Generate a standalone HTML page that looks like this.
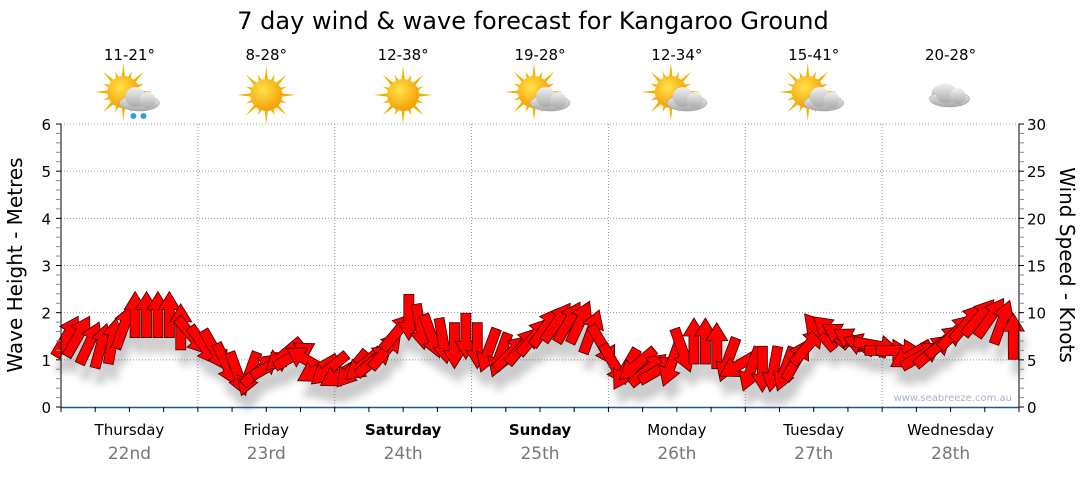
<!DOCTYPE html>
<html><head><meta charset="utf-8">
<style>
body{margin:0;background:#fff;width:1080px;height:475px;overflow:hidden;font-family:"DejaVu Sans","Liberation Sans",sans-serif}
svg text{font-family:"DejaVu Sans","Liberation Sans",sans-serif}
</style></head><body>
<svg id="c" width="1080" height="475" viewBox="0 0 1080 475">
<defs>
<radialGradient id="sun" cx="40%" cy="35%" r="70%"><stop offset="0" stop-color="#ffe34a"/><stop offset="1" stop-color="#f39a00"/></radialGradient>
<linearGradient id="cl" x1="0" y1="0" x2="0" y2="1"><stop offset="0" stop-color="#f2f2f2"/><stop offset="1" stop-color="#a9a9a9"/></linearGradient>
<filter id="sh" x="-20%" y="-20%" width="140%" height="160%"><feGaussianBlur stdDeviation="4"/></filter>
</defs>
<text x="533" y="29" font-size="24" text-anchor="middle" fill="#000">7 day wind &amp; wave forecast for Kangaroo Ground</text>
<g id="grid"></g>
<g id="icons"></g>
<g id="shadow" filter="url(#sh)" opacity="0.3"></g>
<g id="arrows"></g>
<g id="axes"></g>
<text x="1012" y="401" font-size="10" text-anchor="end" fill="#a8b4c8">www.seabreeze.com.au</text>
<text transform="translate(22,265) rotate(-90)" font-size="20" text-anchor="middle">Wave Height - Metres</text>
<text transform="translate(1060,265) rotate(90)" font-size="20" text-anchor="middle">Wind Speed - Knots</text>
</svg>
<script>
const days=["Thursday","Friday","Saturday","Sunday","Monday","Tuesday","Wednesday"];
const dates=["22nd","23rd","24th","25th","26th","27th","28th"];
const temps=["11-21°","8-28°","12-38°","19-28°","12-34°","15-41°","20-28°"];
const icons=["rain","sun","sun","cloudsun","cloudsun","cloudsun","cloud"];
const boldDays=[false,false,true,true,false,false,false];
const waveTicks=[0,1,2,3,4,5,6];
const windTicks=[0,5,10,15,20,25,30];
const windSpeed=[7.5,7.5,6.8,6.5,7,8.5,9.8,9.8,9.8,9.8,8.5,7.5,
6.5,6,4.5,3.5,3.5,4,4.5,5.5,5.5,5,4,4,
3.5,4,4.5,5,6,8,9.5,8.5,7.5,7,6.5,7.5,
6.5,6,5.5,5.8,6.5,7.5,8.5,9,9,9,8,6.5,
4.5,4,4.5,4,4,4.5,6,7,7,6.5,5,4.5,
4,4,4,4,5,6.5,8,8,7.5,7,6.5,6.5,
6,6,5.5,5.5,6,7,8,9,9.5,9.5,9,7.5];
const windDir=[30,30,25,15,10,20,0,0,0,0,0,140,
145,150,155,160,200,50,60,230,60,300,240,230,
240,220,230,50,40,40,180,170,160,170,180,180,
180,200,200,45,40,40,35,35,30,25,20,150,
150,210,230,50,60,200,160,0,0,0,200,240,
200,180,190,200,30,40,320,310,300,300,290,100,
90,90,240,60,50,50,45,40,40,35,20,0];
const X0=61,X1=1019,YT=124,YB=407;
const xDay=i=>X0+(X1-X0)*i/7;
const yWave=v=>YB-(YB-YT)*v/6;
const yWind=v=>YB-(YB-YT)*v/30;
const xPt=i=>X0+(X1-X0)*(i+0.5)/windSpeed.length;
const NS="http://www.w3.org/2000/svg";
function mk(t,a,p){const e=document.createElementNS(NS,t);for(const k in a)e.setAttribute(k,a[k]);p.appendChild(e);return e;}
const grid=document.getElementById('grid'),axes=document.getElementById('axes'),ic=document.getElementById('icons');
waveTicks.forEach(v=>{if(v>0){const l=mk('line',{x1:X0,x2:X1,y1:yWave(v),y2:yWave(v),stroke:'#999','stroke-dasharray':'1,2'},grid);

}});
for(let i=1;i<7;i++){const l=mk('line',{x1:xDay(i),x2:xDay(i),y1:YT,y2:YB,stroke:'#999','stroke-dasharray':'1,2'},grid);

}
mk('line',{x1:X0,x2:X0,y1:YT,y2:YB,stroke:'#000'},axes);
mk('line',{x1:X1,x2:X1,y1:YT,y2:YB,stroke:'#000'},axes);
const xa=mk('line',{x1:X0,x2:X1,y1:YB+0.5,y2:YB+0.5,stroke:'#1f5a8a','stroke-width':1.5},axes);


for(let k=0;k<=30;k++){const y=YB-(YB-YT)*k/30;
mk('line',{x1:X0-5,x2:X0,y1:y,y2:y,stroke:k%5==0?'#000':'#888'},axes);
mk('line',{x1:X1,x2:X1+5,y1:y,y2:y,stroke:k%5==0?'#000':'#888'},axes);}
waveTicks.forEach(v=>{const t=mk('text',{x:X0-10,y:yWave(v)+6,'font-size':15,'text-anchor':'end'},axes);t.textContent=v;

});
windTicks.forEach(v=>{const t=mk('text',{x:X1+8,y:yWind(v)+6,'font-size':15},axes);t.textContent=v;

});
for(let k=0;k<=28;k++){const x=X0+(X1-X0)*k/28;mk('line',{x1:x,x2:x,y1:YB,y2:YB+5,stroke:'#000'},axes);}
days.forEach((d,i)=>{const cx=(xDay(i)+xDay(i+1))/2;
const t=mk('text',{x:cx,y:435,'font-size':15,'text-anchor':'middle','font-weight':boldDays[i]?'bold':'normal'},axes);t.textContent=d;


const t2=mk('text',{x:cx,y:459,'font-size':17,'text-anchor':'middle',fill:'#777'},axes);t2.textContent=dates[i];


const t3=mk('text',{x:cx,y:60,'font-size':15,'text-anchor':'middle'},ic);t3.textContent=temps[i];


const g=mk('g',{transform:`translate(${cx},95)`},ic);


const kind=icons[i];
if(kind!=='cloud'){const ox=kind==='sun'?0:-6,oy=kind==='sun'?0:-3;
for(let r=0;r<16;r++){const a=r*Math.PI/8,L=r%2?22:29;mk('polygon',{points:`${ox+Math.cos(a-0.13)*14},${oy+Math.sin(a-0.13)*14} ${ox+Math.cos(a)*L},${oy+Math.sin(a)*L} ${ox+Math.cos(a+0.13)*14},${oy+Math.sin(a+0.13)*14}`,fill:'#f0b400'},g);}
mk('circle',{cx:ox,cy:oy,r:16,fill:'url(#sun)'},g);}
if(kind!=='sun'){const ox=kind==='cloud'?-3:8,oy=kind==='cloud'?0:4;
if(kind==='cloud'){mk('ellipse',{cx:-6,cy:-2,rx:13,ry:9,fill:'url(#cl)'},g);}
mk('ellipse',{cx:ox+2,cy:oy+4,rx:20,ry:8,fill:'url(#cl)',stroke:'#999','stroke-width':.5},g);
mk('circle',{cx:ox-2,cy:oy-2,r:10,fill:'url(#cl)'},g);
mk('circle',{cx:ox+10,cy:oy+1,r:8,fill:'url(#cl)'},g);}
if(kind==='rain'){mk('circle',{cx:4,cy:21,r:3,fill:'#2e9be0'},g);mk('circle',{cx:14,cy:21,r:3,fill:'#2e9be0'},g);}
});
const ag=document.getElementById('arrows'),sg=document.getElementById('shadow');
const shape="M0,-23 L11,-5 L5,-5 L5,23 L-5,23 L-5,-5 L-11,-5 Z";
windSpeed.forEach((v,i)=>{const x=xPt(i),y=yWind(v);
mk('path',{d:shape,transform:`translate(${x+4},${y+16}) rotate(${windDir[i]})`,fill:'#555'},sg);
const p=mk('path',{d:shape,transform:`translate(${x},${y}) rotate(${windDir[i]})`,fill:'#ff0000',stroke:'#3a0000','stroke-width':0.8},ag);

});
</script>
</body></html>
